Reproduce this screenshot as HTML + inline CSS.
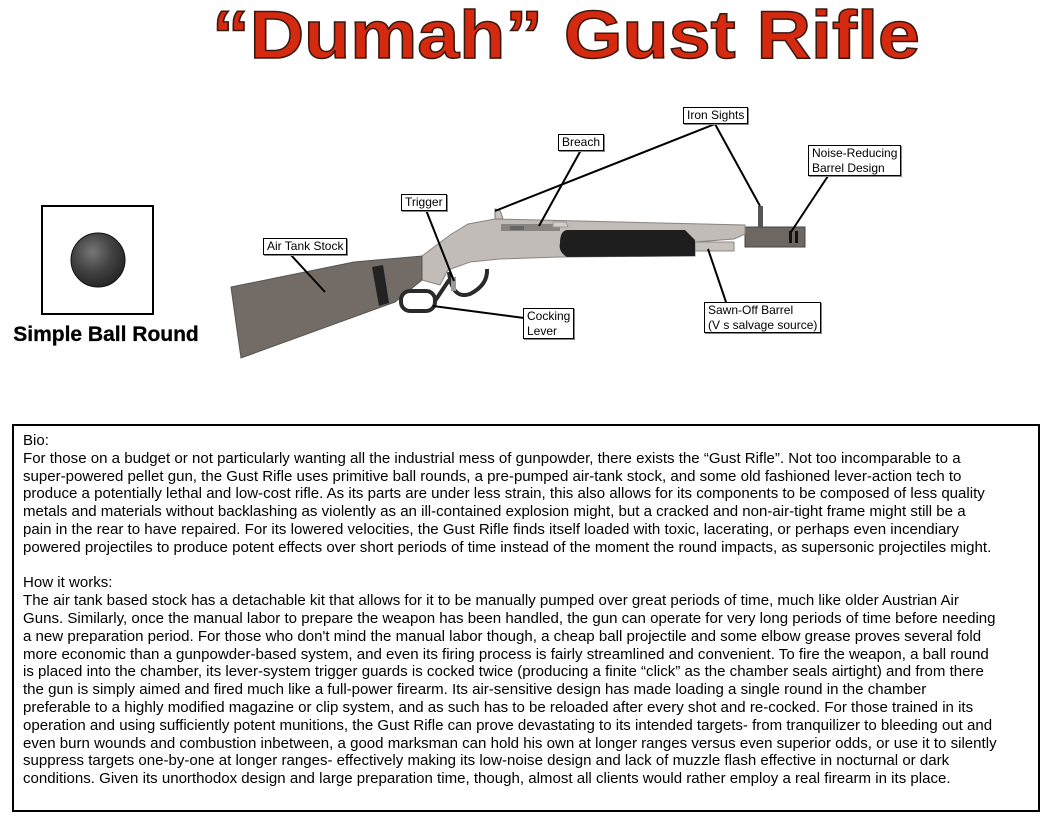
<!DOCTYPE html>
<html><head><meta charset="utf-8"><style>
html,body{margin:0;padding:0;background:#fff;}
body{width:1052px;height:822px;position:relative;overflow:hidden;font-family:"Liberation Sans",Arial,sans-serif;}
.lbl{position:absolute;background:#fff;border:1px solid #000;box-shadow:1px 1px 0 #888;font-size:12px;line-height:14.5px;padding:0 3px;color:#000;white-space:nowrap;}
#txt{position:absolute;left:12px;top:424px;width:1024px;height:384px;border:2px solid #000;}
#txt div{position:absolute;left:9px;font-size:15.05px;line-height:17.8px;white-space:nowrap;color:#000;}
</style></head><body>
<svg width="1052" height="822" style="position:absolute;left:0;top:0">
<text x="566" y="58" text-anchor="middle" font-family="Liberation Sans,Arial,sans-serif" font-weight="bold" font-size="68" fill="#d62a10" stroke="#3a1a10" stroke-width="1.5" textLength="708" lengthAdjust="spacingAndGlyphs">“Dumah” Gust Rifle</text>
<rect x="42" y="206" width="111" height="108" fill="#fff" stroke="#000" stroke-width="2"/>
<defs><radialGradient id="bg" cx="0.4" cy="0.35" r="0.7"><stop offset="0" stop-color="#777"/><stop offset="0.5" stop-color="#444"/><stop offset="1" stop-color="#222"/></radialGradient></defs>
<circle cx="98" cy="260" r="27" fill="url(#bg)" stroke="#111"/>
<text x="106" y="341" text-anchor="middle" font-family="Liberation Sans,Arial,sans-serif" font-weight="bold" font-size="21" fill="#000" stroke="#000" stroke-width="0.3">Simple Ball Round</text>
<polygon points="745,227 805,227 805,247 745,247" fill="#6e6660" stroke="#444"/>
<rect x="789" y="231" width="3" height="12" fill="#111"/><rect x="795" y="231" width="3" height="12" fill="#111"/>
<rect x="758" y="206" width="5" height="22" fill="#555"/>
<polygon points="495,209 500,210 503,219 495,219" fill="#c8c2be" stroke="#777"/>
<polygon points="422,256 450,235 468,224 495,219 745,225 745,234 734,239 695,242 695,256 560,257 500,259 470,262 448,270 440,285 422,280" fill="#c2bcb8" stroke="#8a8480"/>
<rect x="695" y="242" width="39" height="9" fill="#c8c2be" stroke="#888"/>
<rect x="501" y="224" width="59" height="7" fill="#8a8480"/>
<rect x="510" y="226" width="14" height="4" fill="#666"/>
<polygon points="553,222 566,222 568,227 553,227" fill="#d4cecb" stroke="#999"/>
<path d="M567,230 L685,230 L695,240 L695,256 L567,257 Q558,252 560,243 Q560,231 567,230 Z" fill="#1e1e1e"/>
<polygon points="231,287 354,262 422,256 422,280 395,302 241,358 237,330" fill="#736b66" stroke="#555"/>
<polygon points="372,267 383,265 389,303 379,306" fill="#222"/>
<path d="M449,272 Q452,300 470,294 Q488,285 487,269" fill="none" stroke="#2a2a2a" stroke-width="4"/>
<rect x="451" y="277" width="5" height="14" fill="#999"/>
<rect x="401" y="291" width="34" height="20" rx="9" fill="none" stroke="#2a2a2a" stroke-width="4"/>
<line x1="435" y1="301" x2="449" y2="280" stroke="#2a2a2a" stroke-width="4"/>
<g stroke="#000" stroke-width="2">
<line x1="715" y1="124" x2="495" y2="211"/>
<line x1="715" y1="124" x2="760" y2="206"/>
<line x1="581" y1="150" x2="539" y2="226"/>
<line x1="426" y1="210" x2="454" y2="281"/>
<line x1="290" y1="254" x2="325" y2="292"/>
<line x1="524" y1="318" x2="433" y2="306"/>
<line x1="726" y1="302" x2="708" y2="249"/>
<line x1="828" y1="176" x2="791" y2="232"/>
</g>
</svg>
<div class="lbl" style="left:683px;top:107px">Iron Sights</div>
<div class="lbl" style="left:558px;top:134px">Breach</div>
<div class="lbl" style="left:401px;top:194px">Trigger</div>
<div class="lbl" style="left:263px;top:238px">Air Tank Stock</div>
<div class="lbl" style="left:808px;top:145px">Noise-Reducing<br>Barrel Design</div>
<div class="lbl" style="left:523px;top:308px">Cocking<br>Lever</div>
<div class="lbl" style="left:704px;top:302px">Sawn-Off Barrel<br>(V s salvage source)</div>
<div id="txt">
<div style="top:6px">Bio:</div>
<div style="top:23.8px">For those on a budget or not particularly wanting all the industrial mess of gunpowder, there exists the “Gust Rifle”. Not too incomparable to a</div>
<div style="top:41.6px">super-powered pellet gun, the Gust Rifle uses primitive ball rounds, a pre-pumped air-tank stock, and some old fashioned lever-action tech to</div>
<div style="top:59.4px">produce a potentially lethal and low-cost rifle. As its parts are under less strain, this also allows for its components to be composed of less quality</div>
<div style="top:77.2px">metals and materials without backlashing as violently as an ill-contained explosion might, but a cracked and non-air-tight frame might still be a</div>
<div style="top:95px">pain in the rear to have repaired. For its lowered velocities, the Gust Rifle finds itself loaded with toxic, lacerating, or perhaps even incendiary</div>
<div style="top:112.8px">powered projectiles to produce potent effects over short periods of time instead of the moment the round impacts, as supersonic projectiles might.</div>
<div style="top:148.4px">How it works:</div>
<div style="top:166.2px">The air tank based stock has a detachable kit that allows for it to be manually pumped over great periods of time, much like older Austrian Air</div>
<div style="top:184px">Guns. Similarly, once the manual labor to prepare the weapon has been handled, the gun can operate for very long periods of time before needing</div>
<div style="top:201.8px">a new preparation period. For those who don't mind the manual labor though, a cheap ball projectile and some elbow grease proves several fold</div>
<div style="top:219.6px">more economic than a gunpowder-based system, and even its firing process is fairly streamlined and convenient. To fire the weapon, a ball round</div>
<div style="top:237.4px">is placed into the chamber, its lever-system trigger guards is cocked twice (producing a finite “click” as the chamber seals airtight) and from there</div>
<div style="top:255.2px">the gun is simply aimed and fired much like a full-power firearm. Its air-sensitive design has made loading a single round in the chamber</div>
<div style="top:273px">preferable to a highly modified magazine or clip system, and as such has to be reloaded after every shot and re-cocked. For those trained in its</div>
<div style="top:290.8px">operation and using sufficiently potent munitions, the Gust Rifle can prove devastating to its intended targets- from tranquilizer to bleeding out and</div>
<div style="top:308.6px">even burn wounds and combustion inbetween, a good marksman can hold his own at longer ranges versus even superior odds, or use it to silently</div>
<div style="top:326.4px">suppress targets one-by-one at longer ranges- effectively making its low-noise design and lack of muzzle flash effective in nocturnal or dark</div>
<div style="top:344.2px">conditions. Given its unorthodox design and large preparation time, though, almost all clients would rather employ a real firearm in its place.</div>
</div>
</body></html>
